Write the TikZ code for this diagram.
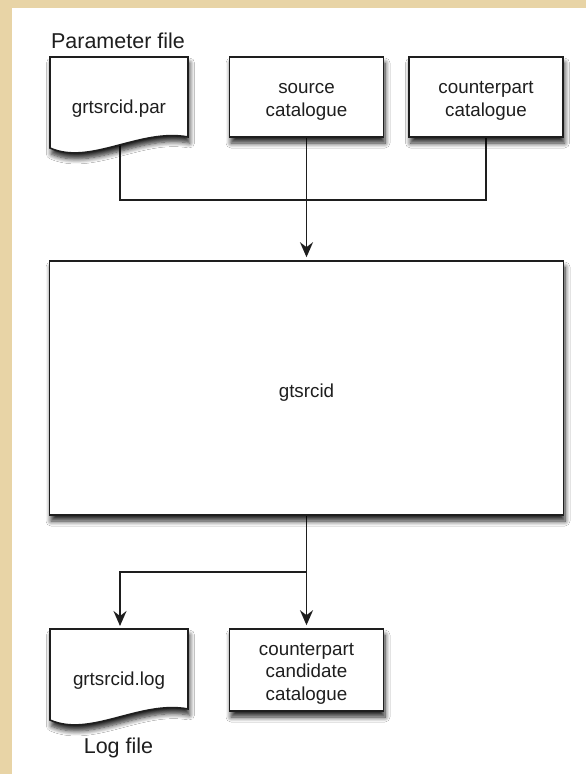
\documentclass[tikz,border=0pt]{standalone}
\usepackage{fontspec}
\setmainfont{Liberation Sans}
\usetikzlibrary{shadows.blur,arrows.meta}
\definecolor{parch}{HTML}{E8D4A6}
\definecolor{ink}{HTML}{1E1E1E}
\pgfdeclarelayer{bg}
\pgfsetlayers{bg,main}
\begin{document}
\begin{tikzpicture}[x=1pt,y=-1pt,
  shad/.style={blur shadow={shadow xshift=1.5pt,shadow yshift=-6pt,shadow blur radius=5pt,shadow opacity=85,shadow blur steps=8}},
  boxst/.style={draw=ink,line width=1.6pt,fill=white,rectangle,inner sep=0pt,shad},
  docst/.style={draw=ink,line width=1.6pt,fill=white,shad},
  txt/.style={inner sep=0pt,align=center,text=ink,font=\fontsize{18.8}{22.5}\selectfont},
  lbl/.style={inner sep=0pt,text=ink,font=\fontsize{21.5}{25}\selectfont},
  conn/.style={draw=ink,line width=1.9pt},
  arr/.style={conn,-{Stealth[length=15pt,width=13pt,inset=5pt]},shorten >=3pt}]
\useasboundingbox (0,0) rectangle (586,774);
% document shapes
\draw[docst] (50,57) -- (188,57) -- (188,137) .. controls (140,128) and (90,166) .. (50,148) -- cycle;
\draw[docst] (50,629) -- (188,629) -- (188,709) .. controls (140,700) and (90,738) .. (50,720) -- cycle;
% boxes
\node[boxst,minimum width=154pt,minimum height=80pt] (src) at (306.5,97) {};
\node[boxst,minimum width=154pt,minimum height=80pt] (cp) at (486,97) {};
\node[boxst,minimum width=514pt,minimum height=254pt] (main) at (306.5,388) {};
\node[boxst,minimum width=154pt,minimum height=82pt] (cand) at (306.5,670) {};
% texts
\node[lbl,anchor=base] (parlbl) at (118,48) {Parameter file};
\node[txt,anchor=base] (par) at (119,113) {grtsrcid.par};
\node[txt,anchor=base] (srct) at (306.5,116) {source\\catalogue};
\node[txt,anchor=base] (cpt) at (486,116) {counterpart\\catalogue};
\node[txt,anchor=base] (maint) at (306.5,397) {gtsrcid};
\node[txt,anchor=base] (candt) at (306.5,700) {counterpart\\candidate\\catalogue};
\node[txt,anchor=base] (log) at (119,685) {grtsrcid.log};
\node[lbl,anchor=base] (loglbl) at (118.5,753) {Log file};
\coordinate (parb) at (120,140);
\coordinate (logtop) at (120,629);
\coordinate (j1) at (306.5,200);
\coordinate (j2) at (306.5,572);
\begin{pgfonlayer}{bg}
\fill[parch] (0,0) rectangle (586,774);
\fill[white] (12,8) rectangle (586,774);
\draw[conn] (parb) |- (j1);
\draw[conn] (cp.south) |- (j1);
\draw[arr] (src.south) -- (main.north);
\draw[arr] (main.south) -- (cand.north);
\draw[arr] (j2) -| (logtop);
\end{pgfonlayer}
\end{tikzpicture}
\end{document}
